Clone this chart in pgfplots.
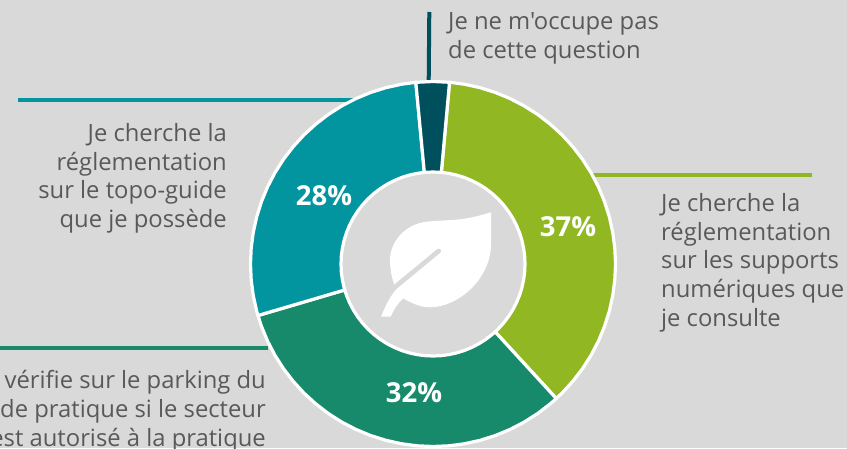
\documentclass[border=0pt]{standalone}
\usepackage{fontspec}
\setmainfont{Open Sans}[Ligatures=TeXOff]
\usepackage{pgfplots}
\pgfplotsset{compat=1.18}
\definecolor{bgc}{HTML}{D9D9D9}
\definecolor{txt}{HTML}{595959}
\definecolor{c1}{HTML}{91B823}
\definecolor{c2}{HTML}{168A6B}
\definecolor{c3}{HTML}{03959F}
\definecolor{c4}{HTML}{004F5D}
\tikzset{
  lab/.style={inner sep=0pt,text=txt,font=\fontsize{23.8}{28.8}\selectfont},
  pct/.style={inner sep=0pt,text=white,font=\fontsize{27.5}{30}\selectfont\bfseries},
}
\begin{document}
\begin{tikzpicture}
\path[use as bounding box,clip] (0,0) rectangle (847pt,448pt);
\fill[bgc] (0,0) rectangle (847pt,448pt);
\begin{axis}[
    at={(0,0)},anchor=south west,
    scale only axis,width=847pt,height=448pt,
    xmin=-433,xmax=414,ymin=-184,ymax=264,
    hide axis,clip=false,
    data cs=polar,
    every axis plot/.append style={no marks,draw=white,line width=3.2pt,line join=round},
]
% leader lines
\draw[c4,line width=4pt] (-3.7,252) -- (-4.3,182);
\draw[c3,line width=4pt] (-415,164) -- (-78,164);
\draw[c1,line width=4pt] (160,89) -- (379,89);
\draw[c2,line width=4pt] (-440,-84) -- (-165,-84);

% 37 %
\addplot[fill=c1] coordinates {
 (84.8,182.5)(80,182.5)(75,182.5)(70,182.5)(65,182.5)(60,182.5)(55,182.5)(50,182.5)(45,182.5)(40,182.5)(35,182.5)(30,182.5)(25,182.5)(20,182.5)(15,182.5)(10,182.5)(5,182.5)(0,182.5)(-5,182.5)(-10,182.5)(-15,182.5)(-20,182.5)(-25,182.5)(-30,182.5)(-35,182.5)(-40,182.5)(-45,182.5)(-47.5,182.5)
 (-47.5,92)(-45,92)(-40,92)(-35,92)(-30,92)(-25,92)(-20,92)(-15,92)(-10,92)(-5,92)(0,92)(5,92)(10,92)(15,92)(20,92)(25,92)(30,92)(35,92)(40,92)(45,92)(50,92)(55,92)(60,92)(65,92)(70,92)(75,92)(80,92)(84.8,92)
} --cycle;
% 32 %
\addplot[fill=c2] coordinates {
 (-47.5,182.5)(-50,182.5)(-55,182.5)(-60,182.5)(-65,182.5)(-70,182.5)(-75,182.5)(-80,182.5)(-85,182.5)(-90,182.5)(-95,182.5)(-100,182.5)(-105,182.5)(-110,182.5)(-115,182.5)(-120,182.5)(-125,182.5)(-130,182.5)(-135,182.5)(-140,182.5)(-145,182.5)(-150,182.5)(-155,182.5)(-160,182.5)(-163.6,182.5)
 (-163.6,92)(-160,92)(-155,92)(-150,92)(-145,92)(-140,92)(-135,92)(-130,92)(-125,92)(-120,92)(-115,92)(-110,92)(-105,92)(-100,92)(-95,92)(-90,92)(-85,92)(-80,92)(-75,92)(-70,92)(-65,92)(-60,92)(-55,92)(-50,92)(-47.5,92)
} --cycle;
% 28 %
\addplot[fill=c3] coordinates {
 (-163.6,182.5)(-165,182.5)(-170,182.5)(-175,182.5)(-180,182.5)(-185,182.5)(-190,182.5)(-195,182.5)(-200,182.5)(-205,182.5)(-210,182.5)(-215,182.5)(-220,182.5)(-225,182.5)(-230,182.5)(-235,182.5)(-240,182.5)(-245,182.5)(-250,182.5)(-255,182.5)(-260,182.5)(-264.6,182.5)
 (-264.6,92)(-260,92)(-255,92)(-250,92)(-245,92)(-240,92)(-235,92)(-230,92)(-225,92)(-220,92)(-215,92)(-210,92)(-205,92)(-200,92)(-195,92)(-190,92)(-185,92)(-180,92)(-175,92)(-170,92)(-165,92)(-163.6,92)
} --cycle;
% 3 %
\addplot[fill=c4] coordinates {
 (-264.6,182.5)(-270,182.5)(-275.2,182.5)
 (-275.2,92)(-270,92)(-264.6,92)
} --cycle;

% leaf
\fill[white] (58,51.7) .. controls (45,48) and (38,46) .. (27,44.7)
  .. controls (15,43.5) and (5,43.5) .. (-6.3,42.3)
  .. controls (-28,40) and (-43,22) .. (-43,4)
  .. controls (-43,-6) and (-41,-14) .. (-38.7,-21)
  -- (-33,-21) .. controls (-41,-29) and (-47,-40) .. (-52,-52.7)
  -- (-42.3,-52.7) .. controls (-39,-45) and (-35,-39) .. (-29.7,-34.3)
  .. controls (-20,-40) and (-12,-43.3) .. (-3,-43.3)
  .. controls (25,-43.3) and (58,-15) .. (58,20) -- cycle;
\draw[bgc,line width=4.7pt,line cap=round] (5.7,13) -- (-40,-24.7);

% percentages
\node[pct] at (135,37) {37\%};
\node[pct] at (-19,-129) {32\%};
\node[pct] at (-109,68) {28\%};

% labels
\node[lab,anchor=north west,align=left] at (15,251.5) {Je ne m'occupe pas\\de cette question};
\node[lab,anchor=north east,align=right] at (-206,141) {Je cherche la\\réglementation\\sur le topo-guide\\que je possède};
\node[lab,anchor=north west,align=left] at (228,71) {Je cherche la\\réglementation\\sur les supports\\numériques que\\je consulte};
\node[lab,anchor=north east,align=right] at (-167,-106) {Je vérifie sur le parking du\\lieu de pratique si le secteur\\est autorisé à la pratique};
\end{axis}
\end{tikzpicture}
\end{document}
